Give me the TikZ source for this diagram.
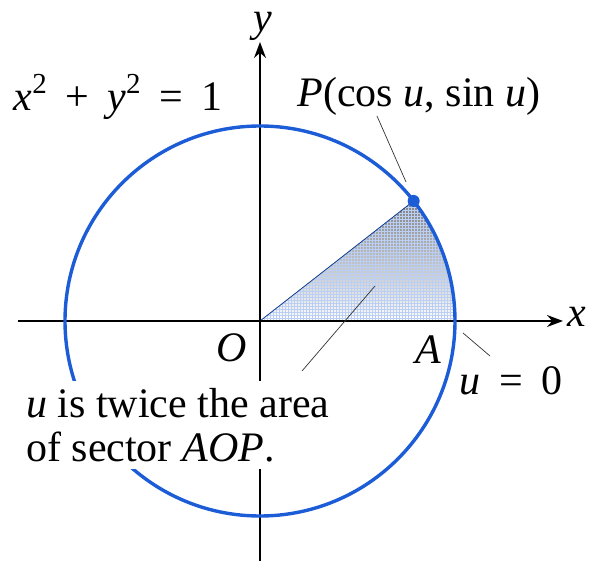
\documentclass[tikz,border=0pt]{standalone}
\usepackage{fontspec}
\setmainfont{Liberation Serif}
\usetikzlibrary{patterns,arrows.meta,calc}
\definecolor{circblue}{RGB}{28,92,215}
\definecolor{shade}{RGB}{198,222,250}
\newcommand{\sqr}{\raisebox{0.42em}{\fontsize{29}{30}\selectfont 2}}
\newcommand{\gap}{\hspace{0.44em}}
\tikzset{
  lbl/.style={font=\fontsize{42}{44}\selectfont, inner sep=1pt},
  axis/.style={line width=1.6pt, -{Stealth[length=16pt,width=12pt]}},
  leader/.style={line width=0.7pt, black!80},
}
\begin{document}
\begin{tikzpicture}[x=1pt,y=-1pt]
\useasboundingbox (0,0) rectangle (590,561);
\coordinate (O) at (260,321);
\coordinate (A) at (455,321);
\coordinate (P) at ($(O)+(-38:195)$);
% sector
\fill[shade] (O) -- (A) arc[start angle=0,end angle=-38,radius=195] -- cycle;
\fill[pattern=grid,pattern color=circblue!30] (O) -- (A) arc[start angle=0,end angle=-38,radius=195] -- cycle;
\draw[circblue!70!black,line width=0.8pt] (O) -- (P);
% axes
\coordinate (xl) at (18,321);
\coordinate (xr) at (563,321);
\coordinate (yb) at (260,561);
\coordinate (yt) at (260,42);
\draw[axis] (xl) -- (xr);
\draw[axis] (yb) -- (yt);
\node[lbl,font=\fontsize{42}{44}\selectfont\itshape] (xlab) at (577,317) {x};
\node[lbl,font=\fontsize{42}{44}\selectfont\itshape,anchor=base] (ylab) at (263,32) {y};
% circle
\draw[circblue,line width=3.4pt] (O) circle[radius=195];
% text with white background
\node[lbl,fill=white,align=left,anchor=north west,inner xsep=4pt,inner ysep=7pt] (txt) at (22,381)
  {\textit{u} is twice the area\\of sector \textit{AOP}.};
\node[lbl] (eq) at (118,97) {\textit{x}\sqr\gap+\gap\textit{y}\sqr\gap=\gap1};
\node[lbl] (plab) at (419,96) {\textit{P}(cos \textit{u}, sin \textit{u})};
\node[lbl] (olab) at (232,348) {\textit{O}};
\node[lbl] (alab) at (428,350) {\textit{A}};
\node[lbl] (u0) at (511,381) {\textit{u}\gap=\gap0};
% leaders
\coordinate (p1) at (377,116);
\coordinate (p2) at (406,182);
\draw[leader] (p1) -- (p2);
\coordinate (s1) at (375,286);
\coordinate (s2) at (302,371);
\draw[leader] (s1) -- (s2);
\coordinate (a1) at (463,333);
\coordinate (a2) at (490,356);
\draw[leader] (a1) -- (a2);
% point
\fill[circblue] (P) circle[radius=6pt];
\end{tikzpicture}
\end{document}
